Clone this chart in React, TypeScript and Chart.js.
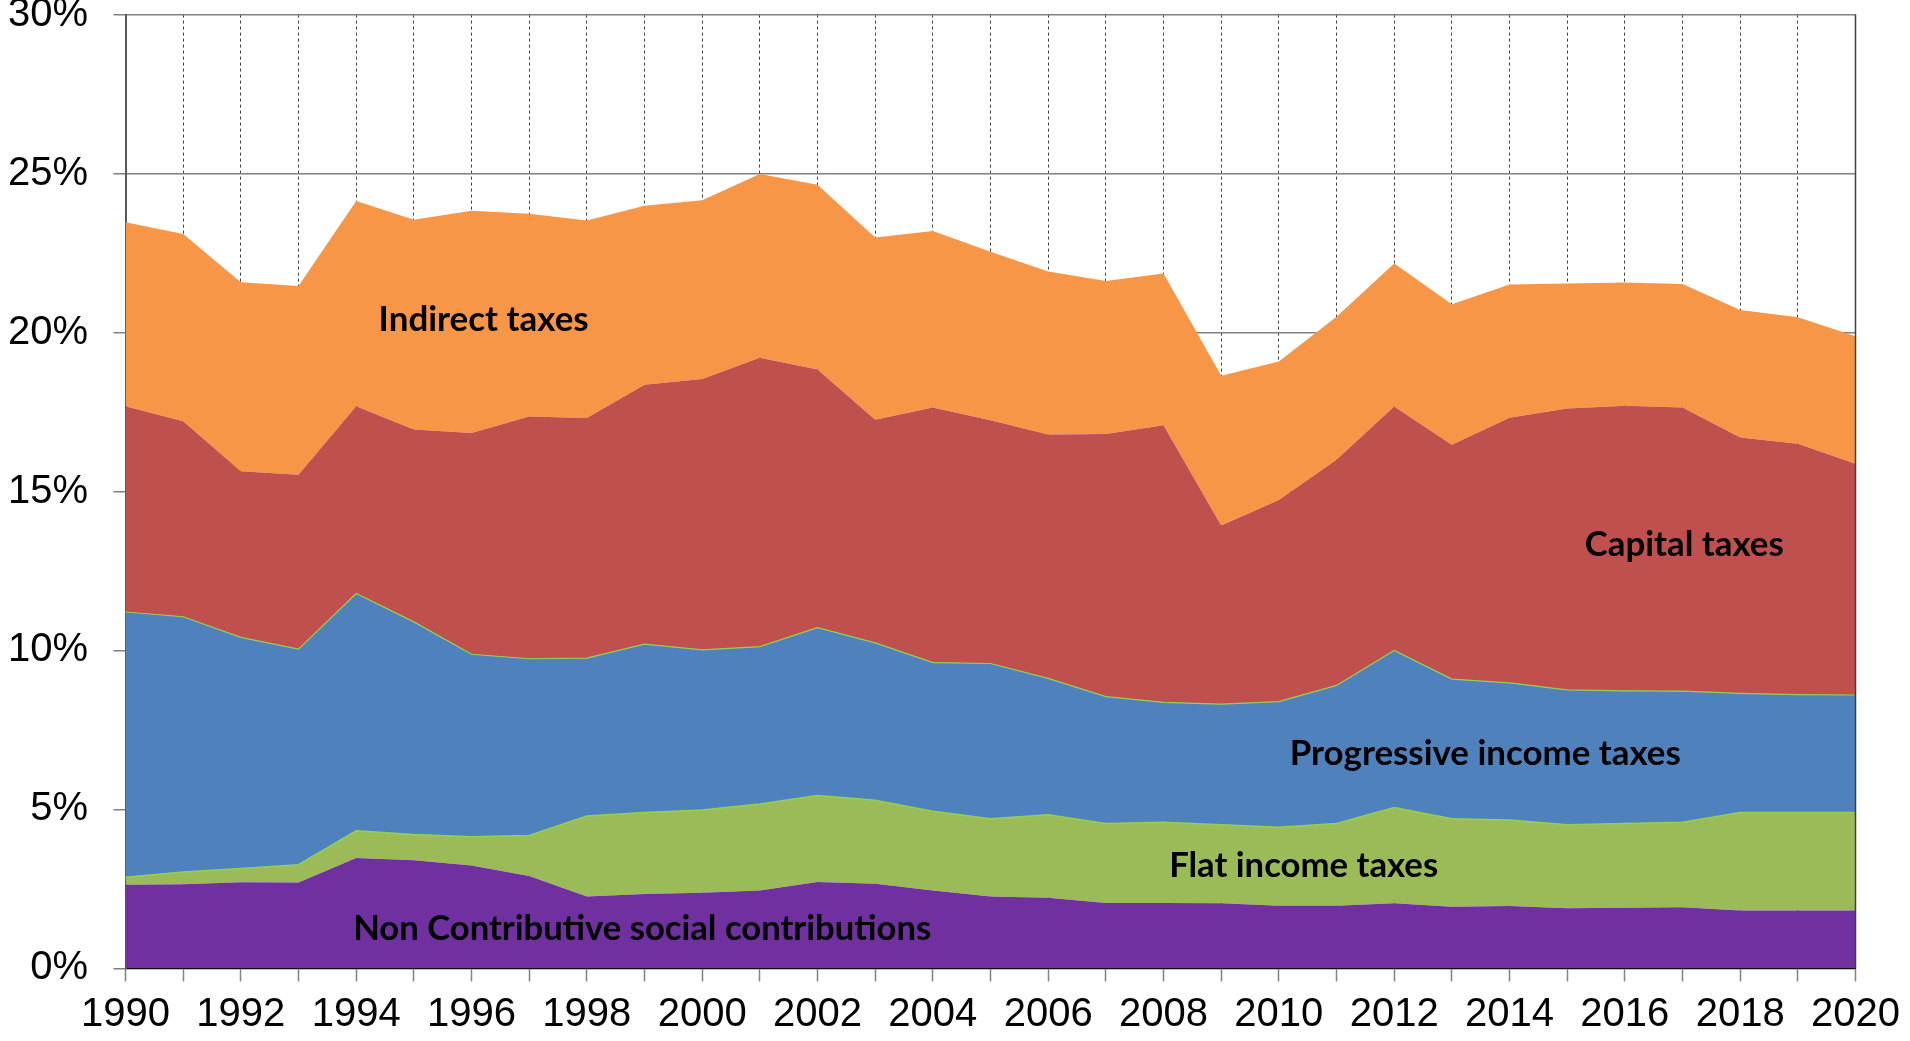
import React, { useEffect, useRef } from "react";
import { Chart, registerables } from "chart.js";

Chart.register(...registerables);

const YEARS = [
  "1990", "1991", "1992", "1993", "1994", "1995", "1996", "1997", "1998", "1999",
  "2000", "2001", "2002", "2003", "2004", "2005", "2006", "2007", "2008", "2009",
  "2010", "2011", "2012", "2013", "2014", "2015", "2016", "2017", "2018", "2019", "2020",
];

const NON_CONTRIBUTIVE = [2.63, 2.65, 2.71, 2.7, 3.47, 3.4, 3.24, 2.91, 2.26, 2.34, 2.38, 2.45, 2.72, 2.66, 2.45, 2.26, 2.22, 2.06, 2.06, 2.05, 1.97, 1.97, 2.05, 1.94, 1.96, 1.89, 1.91, 1.92, 1.82, 1.82, 1.82];
const FLAT_INCOME = [0.24, 0.38, 0.43, 0.56, 0.86, 0.81, 0.9, 1.27, 2.53, 2.56, 2.6, 2.72, 2.72, 2.63, 2.49, 2.45, 2.61, 2.5, 2.54, 2.47, 2.47, 2.59, 3.01, 2.77, 2.71, 2.63, 2.65, 2.68, 3.08, 3.08, 3.08];
const PROGRESSIVE_INCOME = [8.34, 8.03, 7.27, 6.78, 7.46, 6.69, 5.74, 5.56, 4.97, 5.3, 5.04, 4.95, 5.28, 4.95, 4.68, 4.88, 4.29, 3.99, 3.77, 3.79, 3.95, 4.34, 4.94, 4.39, 4.31, 4.24, 4.17, 4.12, 3.75, 3.71, 3.7];
const CAPITAL = [6.47, 6.15, 5.23, 5.49, 5.89, 6.05, 6.96, 7.62, 7.55, 8.16, 8.52, 9.09, 8.12, 7.02, 8.02, 7.65, 7.67, 8.26, 8.71, 5.62, 6.34, 7.1, 7.67, 7.37, 8.34, 8.85, 8.97, 8.92, 8.05, 7.89, 7.27];
const INDIRECT = [5.79, 5.89, 5.94, 5.93, 6.46, 6.6, 6.99, 6.38, 6.21, 5.63, 5.62, 5.78, 5.81, 5.73, 5.55, 5.3, 5.13, 4.81, 4.78, 4.71, 4.36, 4.5, 4.5, 4.42, 4.19, 3.93, 3.87, 3.89, 4.01, 3.98, 4.01];

const Y_TICKS = [0, 5, 10, 15, 20, 25, 30];

// Series name labels drawn inside the areas: [text, year, percent]
const AREA_LABEL_TEXT = ["Indirect taxes", "Capital taxes", "Progressive income taxes", "Flat income taxes", "Non Contributive social contributions"];
const AREA_LABEL_YEAR = [1996.21, 2017.03, 2013.58, 2010.43, 1998.96];
const AREA_LABEL_PCT = [20.43, 13.38, 6.79, 3.28, 1.29];
const AREA_LABEL_WIDTH = [210, 199, 391, 269, 578];

const W = 1910;
const H = 1041;

const areaLabelsPlugin = {
  id: "areaLabels",
  afterDatasetsDraw(chart: any) {
    const { ctx, scales } = chart;
    const x = scales.x;
    const y = scales.y;
    ctx.save();
    // right frame line
    ctx.strokeStyle = "#404040";
    ctx.lineWidth = 1.5;
    ctx.beginPath();
    ctx.moveTo(chart.chartArea.right, chart.chartArea.top);
    ctx.lineTo(chart.chartArea.right, chart.chartArea.bottom);
    ctx.stroke();

    ctx.fillStyle = "#000";
    ctx.font = "bold 35px Lato";
    ctx.textAlign = "center";
    ctx.textBaseline = "alphabetic";
    for (let i = 0; i < AREA_LABEL_TEXT.length; i++) {
      const px = x.getPixelForValue(AREA_LABEL_YEAR[i] - 1990);
      const py = y.getPixelForValue(AREA_LABEL_PCT[i]);
      ctx.fillText(AREA_LABEL_TEXT[i], px, py + 12.5, AREA_LABEL_WIDTH[i]);
    }
    ctx.restore();
  },
};

export default function App() {
  const ref = useRef<HTMLCanvasElement | null>(null);

  useEffect(() => {
    const canvas = ref.current;
    if (!canvas) return;
    const mk = (label: string, data: number[], color: string, fill: any, border?: string, bw = 0) => ({
      label,
      data,
      backgroundColor: color,
      borderColor: border || color,
      borderWidth: bw,
      fill,
      pointRadius: 0,
      pointHoverRadius: 0,
      tension: 0,
    });
    const chart = new Chart(canvas, {
      type: "line",
      data: {
        labels: YEARS,
        datasets: [
          mk("Non Contributive social contributions", NON_CONTRIBUTIVE, "#7030A0", "origin"),
          mk("Flat income taxes", FLAT_INCOME, "#9BBB59", "-1", "#92D050", 1.5),
          mk("Progressive income taxes", PROGRESSIVE_INCOME, "#4F81BD", "-1", "#92D050", 1.2),
          mk("Capital taxes", CAPITAL, "#C0504D", "-1"),
          mk("Indirect taxes", INDIRECT, "#F79646", "-1"),
        ],
      },
      options: {
        responsive: false,
        animation: false,
        devicePixelRatio: 1,
        layout: { padding: { top: 14.6, right: 52.4, left: 0, bottom: 0 } },
        plugins: {
          legend: { display: false },
          tooltip: { enabled: false },
          title: { display: false },
        },
        elements: { line: { borderJoinStyle: "miter" } },
        scales: {
          x: {
            type: "category",
            offset: false,
            afterFit: (s: any) => {
              s.height = 72.6;
            },
            grid: {
              display: true,
              color: "#404040",
              lineWidth: 1,
              drawTicks: true,
              tickLength: 13,
              tickColor: "#808080",
              tickWidth: 1.5,
            },
            border: { display: true, color: "#000", width: 2, dash: [3, 3] },
            ticks: {
              autoSkip: false,
              maxRotation: 0,
              minRotation: 0,
              padding: 10,
              color: "#000",
              font: { family: "'Liberation Sans', Arial, sans-serif", size: 40 },
              callback: (_v: any, i: number) => (i % 2 === 0 ? YEARS[i] : ""),
            },
          },
          y: {
            stacked: true,
            min: 0,
            max: 30,
            afterFit: (s: any) => {
              s.width = 125.5;
              s.paddingTop = 0;
              s.paddingBottom = 0;
            },
            afterBuildTicks: (s: any) => {
              s.ticks = Y_TICKS.map((v) => ({ value: v }));
            },
            grid: {
              color: "#808080",
              lineWidth: 1.5,
              tickLength: 12,
              tickColor: "#808080",
            },
            border: { display: true, color: "#595959", width: 2 },
            ticks: {
              padding: 25.5,
              color: "#000",
              font: { family: "'Liberation Sans', Arial, sans-serif", size: 40 },
              callback: (v: any) => v + "%",
            },
          },
        },
      },
      plugins: [areaLabelsPlugin],
    } as any);
    return () => chart.destroy();
  }, []);

  return (
    <div style={{ position: "fixed", left: 0, top: 0, width: W, height: H, background: "#fff" }}>
      <canvas ref={ref} width={W} height={H} style={{ display: "block", width: W, height: H }} />
    </div>
  );
}
